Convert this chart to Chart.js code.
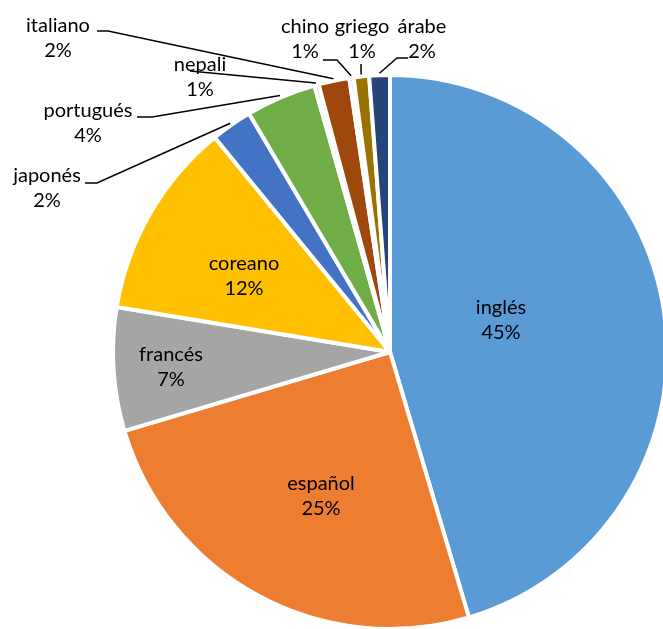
<!DOCTYPE html>
<html>
<head>
<meta charset="utf-8">
<script src="https://cdn.jsdelivr.net/npm/chart.js@4.4.1/dist/chart.umd.min.js"></script>
<style>
  html, body { margin: 0; padding: 0; width: 663px; height: 629px; overflow: hidden; background: #fff; }
  #pieChart { position: absolute; left: 0; top: 0; }
</style>
</head>
<body>
<canvas id="pieChart" width="800" height="700"></canvas>
<script>
const idiomas = ['inglés', 'español', 'francés', 'coreano', 'japonés', 'portugués', 'nepali', 'italiano', 'chino', 'griego', 'árabe'];
const valores = [45.4, 25.0, 7.2, 11.5, 2.4, 4.1, 0.25, 1.8, 0.25, 0.9, 1.2];
const etiquetas = ['45%', '25%', '7%', '12%', '2%', '4%', '1%', '2%', '1%', '1%', '2%'];
const colores = ['#5B9BD5', '#ED7D31', '#A5A5A5', '#FFC000', '#4472C4', '#70AD47', '#255E91', '#9E480E', '#636363', '#997300', '#264478'];

// label placement (page coords): text centre x, first line y, optional leader start + elbow
const labelPos = [
  { x: 501, y: 308 },
  { x: 321, y: 484 },
  { x: 171, y: 355 },
  { x: 244, y: 264 },
  { x: 47, y: 176, line: [[85, 183], [97, 183]] },
  { x: 88, y: 111, line: [[137, 117], [152, 117]] },
  { x: 200, y: 65, line: [[190, 71]] },
  { x: 58, y: 26, line: [[97, 31], [108, 31]] },
  { x: 305, y: 27, line: [[323, 60], [337, 60]] },
  { x: 362, y: 27, line: [[361, 64]] },
  { x: 422, y: 27, line: [[408, 58], [397, 58]] }
];

const etiquetasPlugin = {
  id: 'etiquetas',
  afterDatasetsDraw(chart) {
    const c = chart.ctx;
    const arcs = chart.getDatasetMeta(0).data;
    c.save();
    c.font = '20px Lato';
    c.fillStyle = '#000';
    c.textAlign = 'center';
    c.textBaseline = 'middle';
    c.strokeStyle = '#000';
    c.lineWidth = 1.5;
    arcs.forEach((arc, i) => {
      const p = labelPos[i];
      c.fillText(idiomas[i], p.x, p.y);
      c.fillText(etiquetas[i], p.x, p.y + 25);
      if (p.line) {
        const mid = (arc.startAngle + arc.endAngle) / 2;
        const r = arc.outerRadius + 2;
        c.beginPath();
        p.line.forEach((pt, k) => {
          if (k === 0) c.moveTo(pt[0], pt[1]);
          else c.lineTo(pt[0], pt[1]);
        });
        c.lineTo(arc.x + Math.cos(mid) * r, arc.y + Math.sin(mid) * r);
        c.stroke();
      }
    });
    c.restore();
  }
};

const ctx = document.getElementById('pieChart');

new Chart(ctx, {
  type: 'pie',
  data: {
    labels: idiomas,
    datasets: [{
      data: valores,
      backgroundColor: colores,
      borderColor: '#fff',
      borderWidth: 4,
      hoverOffset: 0
    }]
  },
  options: {
    responsive: false,
    devicePixelRatio: 1,
    animation: false,
    layout: { padding: { left: 111, top: 73, right: 131, bottom: 69 } },
    plugins: {
      legend: { display: false },
      tooltip: { enabled: false }
    }
  },
  plugins: [etiquetasPlugin]
});
</script>
</body>
</html>
